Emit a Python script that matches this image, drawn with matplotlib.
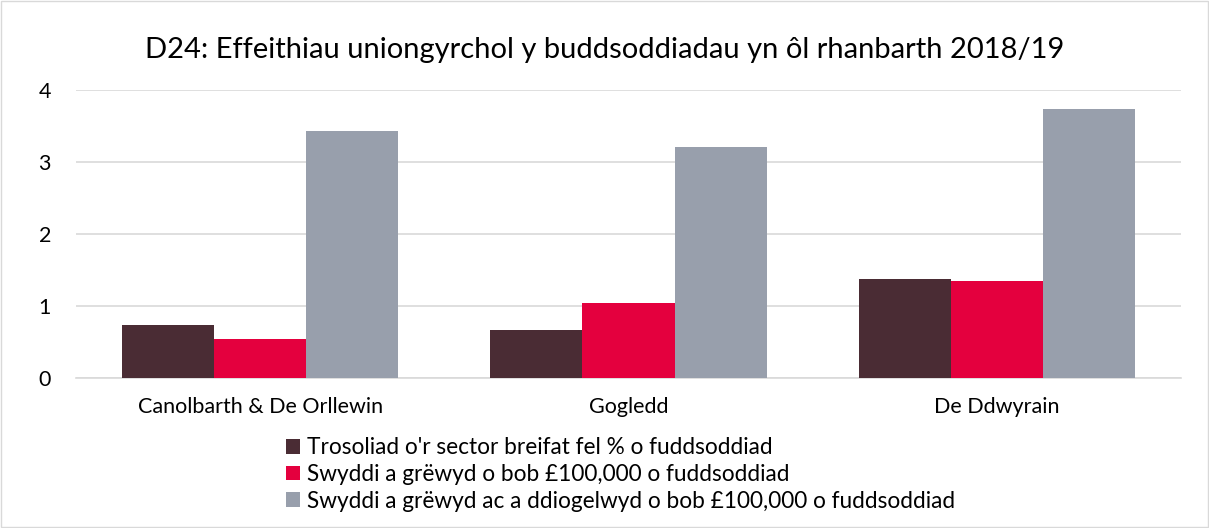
import matplotlib.pyplot as plt
import numpy as np

# Data
regions = ['Canolbarth & De Orllewin', 'Gogledd', 'De Ddwyrain']
series_names = ["Trosoliad o'r sector breifat fel % o fuddsoddiad",
                'Swyddi a grëwyd o bob £100,000 o fuddsoddiad',
                'Swyddi a grëwyd ac a ddiogelwyd o bob £100,000 o fuddsoddiad']
trosoliad = [0.74, 0.67, 1.38]
swyddi_creu = [0.54, 1.04, 1.35]
swyddi_diogelu = [3.43, 3.21, 3.73]
colours = ['#4A2C34', '#E4003E', '#989FAC']

plt.rcParams['font.family'] = ['Lato', 'DejaVu Sans']

fig = plt.figure(figsize=(12.09, 5.28), dpi=100)
ax = fig.add_axes([76 / 1209, 1 - 378 / 528, 1105 / 1209, 288 / 528])

x = np.arange(len(regions))
w = 0.25
for i, (vals, name) in enumerate(zip([trosoliad, swyddi_creu, swyddi_diogelu], series_names)):
    ax.bar(x + (i - 1) * w, vals, w, color=colours[i], label=name, zorder=3)

ax.set_xlim(-0.5, 2.5)
ax.set_ylim(0, 4)
ax.set_yticks([0, 1, 2, 3, 4])
ax.grid(axis='y', color='#D9D9D9', linewidth=1.2, zorder=0)
for s in ['top', 'right', 'left']:
    ax.spines[s].set_visible(False)
ax.spines['bottom'].set_color('#D9D9D9')
ax.spines['bottom'].set_linewidth(1.2)
ax.tick_params(length=0, labelsize=15.5, colors='#000000')
ax.tick_params(axis='x', pad=14)
ax.tick_params(axis='y', pad=18)
ax.set_xticks(x)
ax.set_xticklabels(regions)

fig.text(0.5, 1 - 50 / 528, 'D24: Effeithiau uniongyrchol y buddsoddiadau yn ôl rhanbarth 2018/19',
         ha='center', va='center', fontsize=21)

fig.legend(loc='upper left', bbox_to_anchor=(275 / 1209, 1 - 426 / 528), frameon=False,
           fontsize=16.3, handlelength=0.6, handleheight=0.6, handletextpad=0.3,
           labelspacing=0.25, borderpad=0)

fig.patches.append(plt.Rectangle((0.001, 0.001), 0.998, 0.997, transform=fig.transFigure,
                                 fill=False, edgecolor='#D9D9D9', linewidth=1))

plt.savefig('out.png', dpi=100)
